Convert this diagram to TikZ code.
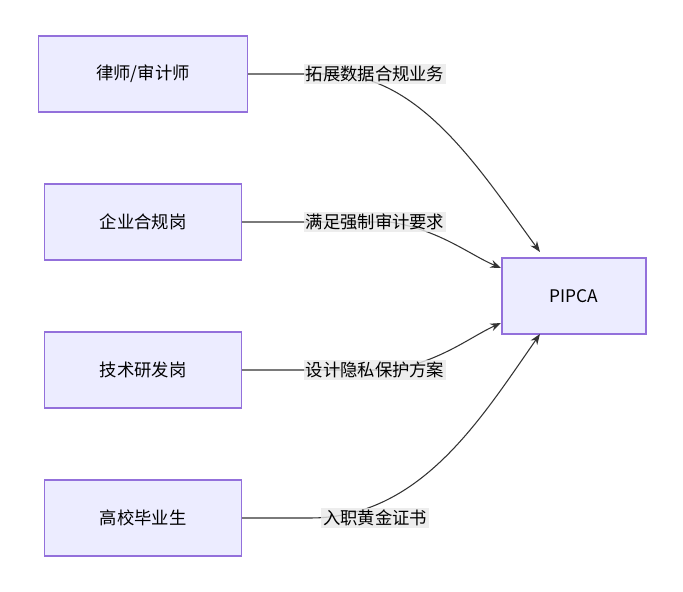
\documentclass[tikz,border=0pt]{standalone}
\usepackage{fontspec}
\setmainfont{Noto Sans CJK SC}
\usetikzlibrary{positioning, arrows.meta}

\begin{document}
\begin{tikzpicture}[x=0.75pt, y=-0.75pt,
    box/.style={rectangle, draw={rgb,255:red,147;green,112;blue,219}, line width=0.8pt,
                fill={rgb,255:red,236;green,236;blue,255}, minimum height=57pt, font=\fontsize{13}{15}\selectfont},
    lbl/.style={fill={rgb,255:red,232;green,232;blue,232}, fill opacity=0.8, text opacity=1,
                inner sep=1.5pt, font=\fontsize{13}{15}\selectfont},
    arrow/.style={-{Stealth[length=8pt, width=6pt]}, line width=0.8pt, draw={rgb,255:red,51;green,51;blue,51}}
]
    \useasboundingbox (0,0) rectangle (683,592);

    % nodes
    \node[box, minimum width=157pt] (lawyer) at (143,74) {律师/审计师};
    \node[box, minimum width=148pt] (comp) at (143,222) {企业合规岗};
    \node[box, minimum width=148pt] (tech) at (143,370) {技术研发岗};
    \node[box, minimum width=148pt] (grad) at (143,518) {高校毕业生};
    \node[box, minimum width=108pt] (pipca) at (574,296) {PIPCA};

    % arrow ends
    \coordinate (e1) at (540,252);
    \coordinate (e2) at (501,268);
    \coordinate (e3) at (501,323);
    \coordinate (e4) at (540,334);

    % edges
    \draw[arrow] (lawyer.east) -- (330,74) .. controls (420,74) and (480,170) .. (e1);
    \draw[arrow] (comp.east) -- (390,222) .. controls (440,230) and (470,255) .. (e2);
    \draw[arrow] (tech.east) -- (390,370) .. controls (440,362) and (470,337) .. (e3);
    \draw[arrow] (grad.east) -- (310,518) .. controls (420,518) and (480,420) .. (e4);

    % labels
    \node[lbl] (l1) at (375,74) {拓展数据合规业务};
    \node[lbl] (l2) at (375,222) {满足强制审计要求};
    \node[lbl] (l3) at (375,370) {设计隐私保护方案};
    \node[lbl] (l4) at (375,518) {入职黄金证书};
\end{tikzpicture}
\end{document}
